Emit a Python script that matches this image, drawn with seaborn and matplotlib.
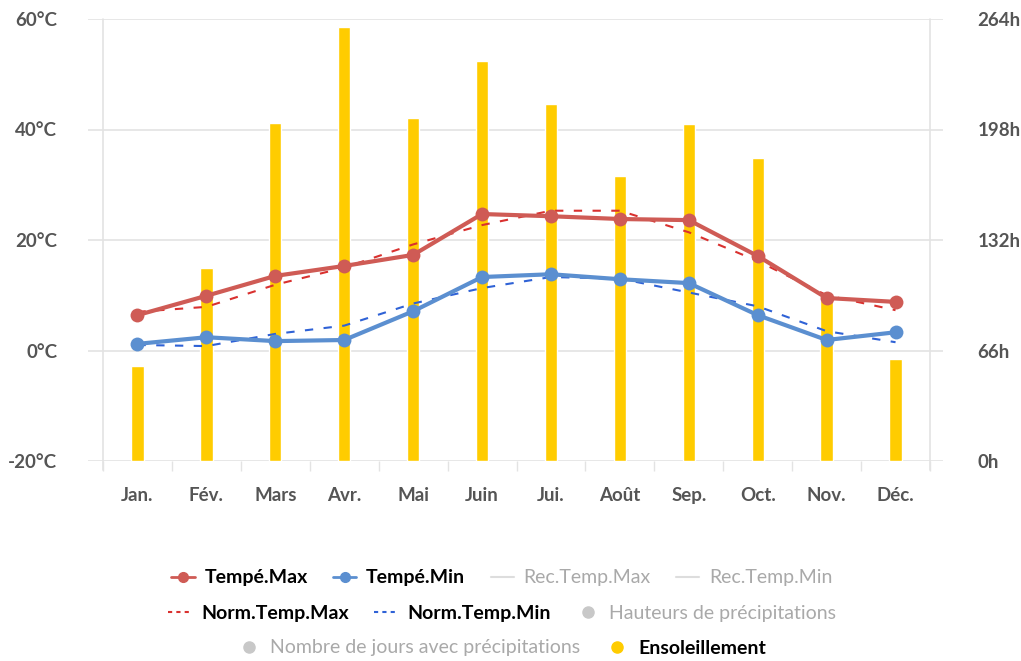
import numpy as np
import pandas as pd
import matplotlib
matplotlib.use("Agg")
import matplotlib.pyplot as plt
from matplotlib.lines import Line2D
import seaborn as sns

months = ['Jan.', 'Fév.', 'Mars', 'Avr.', 'Mai', 'Juin', 'Jui.', 'Août', 'Sep.', 'Oct.', 'Nov.', 'Déc.']
temp_max = [6.4, 9.9, 13.5, 15.3, 17.3, 24.7, 24.3, 23.8, 23.6, 17.1, 9.5, 8.8]
temp_min = [1.2, 2.4, 1.7, 1.9, 7.1, 13.3, 13.8, 12.9, 12.2, 6.4, 1.9, 3.3]
norm_max = [7.0, 7.9, 11.9, 15.0, 19.2, 22.7, 25.3, 25.3, 21.4, 16.2, 10.0, 7.3]
norm_min = [1.0, 0.8, 3.0, 4.5, 8.5, 11.3, 13.3, 13.0, 10.5, 8.0, 3.5, 1.5]
sunshine = [57, 115, 202, 259, 205, 239, 213, 170, 201, 181, 96, 61]

temp_ticks = [-20, 0, 20, 40, 60]
sun_ticks = [0, 66, 132, 198, 264]

df = pd.DataFrame({'mois': months, 'pos': np.arange(12), 'tmax': temp_max, 'tmin': temp_min,
                   'nmax': norm_max, 'nmin': norm_min, 'soleil': sunshine})

sns.set_theme(style='white')
plt.rcParams['font.family'] = ['Lato', 'DejaVu Sans']

RED = '#cf5b55'
BLUE = '#5b8fd0'
YELLOW = '#ffcc00'
NRED = '#d9312f'
NBLUE = '#2f62d6'
GRID = '#e3e3e3'
TXT = '#555555'

fig = plt.figure(figsize=(10.21, 6.61), dpi=100)
ax = fig.add_axes([88 / 1021, 1 - 461 / 661, (943 - 88) / 1021, (461 - 19) / 661])

# sunshine bars on the base axis (drawn below the temperature lines)
sns.barplot(data=df, x='pos', y='soleil', ax=ax, color=YELLOW, saturation=1, width=0.18, zorder=2)
ax.set_axisbelow(True)
ax.grid(axis='y', color=GRID, lw=1.2)

ax2 = ax.twinx()
sns.lineplot(data=df, x='pos', y='nmax', ax=ax2, color=NRED, lw=1.5, linestyle=(0, (4, 5)))
sns.lineplot(data=df, x='pos', y='nmin', ax=ax2, color=NBLUE, lw=1.5, linestyle=(0, (4, 5)))
sns.lineplot(data=df, x='pos', y='tmax', ax=ax2, color=RED, lw=3, marker='o', markersize=10,
             markeredgewidth=0)
sns.lineplot(data=df, x='pos', y='tmin', ax=ax2, color=BLUE, lw=3, marker='o', markersize=10,
             markeredgewidth=0)

ax.set_ylim(0, 264)
ax.set_yticks(sun_ticks)
ax.set_yticklabels([f'{v}h' for v in sun_ticks])
ax.yaxis.tick_right()
ax2.set_ylim(-20, 60)
ax2.set_yticks(temp_ticks)
ax2.set_yticklabels([f'{v}°C' for v in temp_ticks])
ax2.yaxis.tick_left()
ax2.grid(False)

left = -0.5 - 15 / 68.9
right = 11.5 + 13 / 68.9
for a in (ax, ax2):
    a.set_xlim(left, right)
    a.set_xlabel('')
    a.set_ylabel('')
    for s in a.spines.values():
        s.set_visible(False)

ax.set_xticks(np.arange(12))
ax.set_xticklabels(months)
ax.set_xticks(np.arange(-0.5, 12.0, 1), minor=True)
ax.tick_params(axis='x', which='major', length=0, pad=19, labelsize=13.5, labelcolor=TXT)
ax.tick_params(axis='x', which='minor', length=7, width=1, color=GRID, bottom=True)
ax.tick_params(axis='y', length=0, pad=25, labelsize=13.5, labelcolor=TXT)
ax2.tick_params(axis='y', length=0, pad=22, labelsize=13.5, labelcolor=TXT)
for lab in ax.get_xticklabels() + ax.get_yticklabels() + ax2.get_yticklabels():
    lab.set_fontweight('bold')

for xv in (-0.5, 11.5):
    ax.axvline(xv, color=GRID, lw=1.2, ymin=-0.02, ymax=1, clip_on=False, zorder=1)

# legend rows
GREY = '#c8c8c8'
GTXT = '#a9a9a9'
rows = [
    [(Line2D([], [], color=RED, lw=2, marker='o', ms=7), 'Tempé.Max', True),
     (Line2D([], [], color=BLUE, lw=2, marker='o', ms=7), 'Tempé.Min', True),
     (Line2D([], [], color='#dddddd', lw=1.5), 'Rec.Temp.Max', False),
     (Line2D([], [], color='#dddddd', lw=1.5), 'Rec.Temp.Min', False)],
    [(Line2D([], [], color=NRED, lw=1.5, linestyle=(0, (2, 2))), 'Norm.Temp.Max', True),
     (Line2D([], [], color=NBLUE, lw=1.5, linestyle=(0, (2, 2))), 'Norm.Temp.Min', True),
     (Line2D([], [], color=GREY, lw=0, marker='o', ms=8), 'Hauteurs de précipitations', False)],
    [(Line2D([], [], color=GREY, lw=0, marker='o', ms=8), 'Nombre de jours avec précipitations', False),
     (Line2D([], [], color=YELLOW, lw=0, marker='o', ms=8), 'Ensoleillement', True)],
]
row_y = [578, 613, 648]
for items, yp in zip(rows, row_y):
    leg = fig.legend([h for h, _, _ in items], [t for _, t, _ in items], ncol=len(items),
                     loc='center', bbox_to_anchor=(502 / 1021, 1 - yp / 661), frameon=False,
                     fontsize=14, handlelength=1.2, handletextpad=0.5, columnspacing=1.3)
    for txt, (_, _, active) in zip(leg.get_texts(), items):
        if active:
            txt.set_color('black')
            txt.set_fontweight('bold')
        else:
            txt.set_color(GTXT)

fig.savefig('out.png', dpi=100)
